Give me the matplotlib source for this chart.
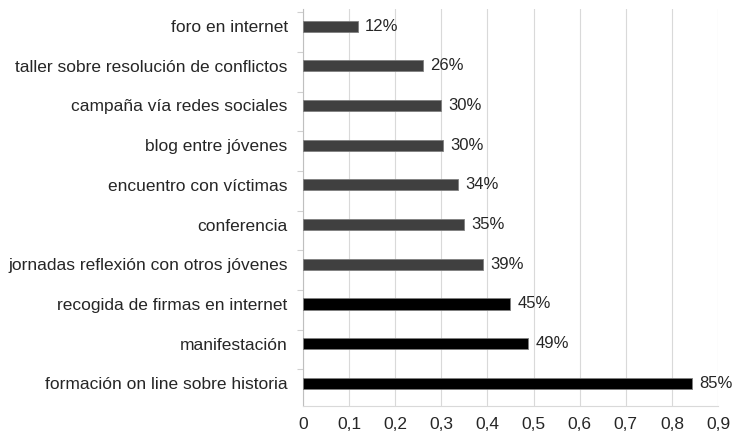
import matplotlib
matplotlib.use("Agg")
import matplotlib.pyplot as plt
import numpy as np

categories = ["foro en internet", "taller sobre resolución de conflictos",
              "campaña vía redes sociales", "blog entre jóvenes",
              "encuentro con víctimas", "conferencia",
              "jornadas reflexión con otros jóvenes",
              "recogida de firmas en internet", "manifestación",
              "formación on line sobre historia"]
values = [0.119, 0.26, 0.299, 0.304, 0.337, 0.35, 0.391, 0.449, 0.488, 0.843]
value_labels = ["12%", "26%", "30%", "30%", "34%", "35%", "39%", "45%", "49%", "85%"]
bar_colors = ["#404040"] * 7 + ["#000000"] * 3
xticks = [0, 0.1, 0.2, 0.3, 0.4, 0.5, 0.6, 0.7, 0.8, 0.9]
xtick_labels = ["0", "0,1", "0,2", "0,3", "0,4", "0,5", "0,6", "0,7", "0,8", "0,9"]

plt.rcParams['font.family'] = ['Liberation Sans', 'DejaVu Sans']

fig = plt.figure(figsize=(7.37, 4.41), dpi=100)
ax = fig.add_axes([303 / 737, 1 - 406 / 441, (718 - 303) / 737, (406 - 9) / 441])

y = np.arange(len(categories))
ax.barh(y, values, height=0.28, color=bar_colors, edgecolor="#7f7f7f", linewidth=0.6, zorder=3)
for yi, v, lab in zip(y, values, value_labels):
    ax.text(v + 0.016, yi, lab, va="center", ha="left", fontsize=12, color="#262626")

ax.set_ylim(9.57, -0.43)
ax.set_xlim(0, 0.9)
ax.set_yticks(y)
ax.set_yticklabels(categories, fontsize=12.5, color="#262626")
ax.set_yticks(np.arange(len(categories)) - 0.35, minor=True)
ax.tick_params(axis="y", which="major", length=0, pad=11)
ax.tick_params(axis="y", which="minor", length=4, color="#d0d0d0", width=0.8)
ax.set_xticks(xticks)
ax.set_xticklabels(xtick_labels, fontsize=12.5, color="#262626")
ax.tick_params(axis="x", length=0, pad=8)
ax.grid(axis="x", color="#d9d9d9", linewidth=0.8, zorder=0)
for s in ["top", "right"]:
    ax.spines[s].set_visible(False)
ax.spines["left"].set_color("#bfbfbf")
ax.spines["bottom"].set_color("#d9d9d9")

fig.savefig("out.png", dpi=100)
